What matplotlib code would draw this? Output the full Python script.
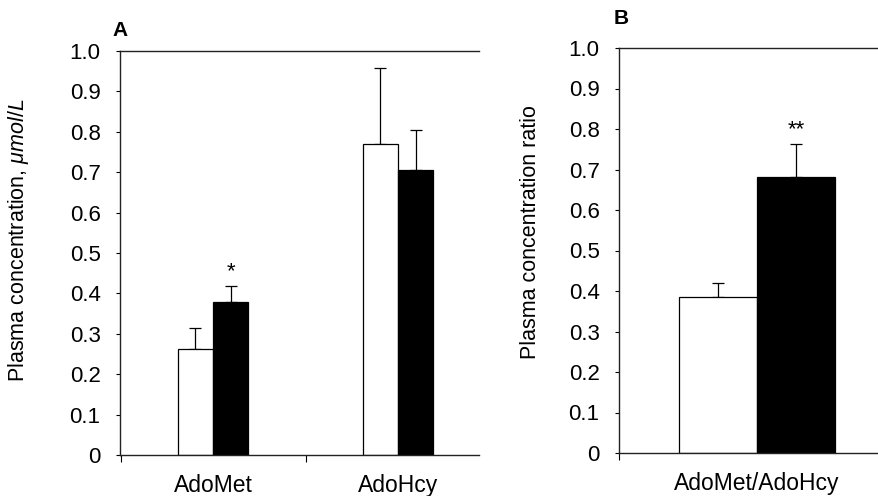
import numpy as np
import matplotlib
matplotlib.use("Agg")
import matplotlib.pyplot as plt

plt.rcParams["font.family"] = ["Liberation Sans", "DejaVu Sans"]
plt.rcParams["mathtext.fontset"] = "custom"
plt.rcParams["mathtext.rm"] = "Liberation Sans"
plt.rcParams["mathtext.it"] = "Liberation Sans:italic"

# panel A: plasma concentrations (umol/L)
groups_a = ["AdoMet", "AdoHcy"]
open_a = [0.262, 0.770]
open_a_err = [0.052, 0.188]
filled_a = [0.379, 0.705]
filled_a_err = [0.039, 0.099]
marks_a = ["*", ""]

# panel B: ratio
groups_b = ["AdoMet/AdoHcy"]
open_b = [0.385]
open_b_err = [0.035]
filled_b = [0.681]
filled_b_err = [0.082]
marks_b = ["**"]

yticks = np.round(np.arange(0, 1.01, 0.1), 1)
ylabels = ["0"] + [f"{v:.1f}" for v in yticks[1:]]

FS = 16
fig = plt.figure(figsize=(8.79, 4.96), dpi=100)
W, H = 879, 496


def style_axes(ax):
    ax.set_ylim(0, 1.0)
    ax.set_yticks(yticks)
    ax.set_yticklabels(ylabels, fontsize=FS)
    for side in ["top", "left", "bottom"]:
        ax.spines[side].set_linewidth(1.0)
        ax.spines[side].set_color("#222222")
    ax.spines["right"].set_visible(False)
    ax.tick_params(axis="y", direction="out", length=3, width=0.8, pad=11)
    ax.tick_params(axis="x", direction="out", length=5, width=0.8)


def draw_bars(ax, xs, op, op_err, fi, fi_err, marks, w):
    ax.bar(xs - w / 2, op, w, color="white", edgecolor="black", linewidth=0.9, zorder=2)
    ax.bar(xs + w / 2, fi, w, color="black", edgecolor="black", linewidth=0.9, zorder=2)
    ax.errorbar(xs - w / 2, op, yerr=[np.zeros(len(op)), op_err], fmt="none",
                ecolor="black", elinewidth=0.9, capsize=4, capthick=0.9, zorder=1)
    ax.errorbar(xs + w / 2, fi, yerr=[np.zeros(len(fi)), fi_err], fmt="none",
                ecolor="black", elinewidth=0.9, capsize=4, capthick=0.9, zorder=1)
    for x, v, e, m in zip(xs, fi, fi_err, marks):
        if m:
            ax.text(x + w / 2, v + e + 0.035, m, ha="center", va="center", fontsize=16)


# panel A
axA = fig.add_axes([120 / W, 1 - 455 / H, (479 - 120) / W, (455 - 51) / H])
xa = np.arange(len(groups_a))
draw_bars(axA, xa, open_a, open_a_err, filled_a, filled_a_err, marks_a, 0.19)
axA.set_xlim(-0.503, 1.438)
style_axes(axA)
axA.set_xticks([-0.5, 0.5])
axA.set_xticklabels([])
axA.set_xticks(xa, minor=True)
axA.set_xticklabels(groups_a, minor=True)
axA.tick_params(axis="x", which="minor", length=0, labelsize=FS + 0.5, pad=14)
axA.set_ylabel(r"Plasma concentration, $\mathit{\mu mol/L}$", fontsize=15.5)
axA.yaxis.set_label_coords(-0.248, 0.532)
fig.text(112 / W, 1 - 31 / H, "A", fontsize=15, fontweight="bold", ha="left", va="center")

# panel B
axB = fig.add_axes([619 / W, 1 - 453 / H, (879 - 619) / W, (453 - 48) / H])
xb = np.arange(len(groups_b))
draw_bars(axB, xb, open_b, open_b_err, filled_b, filled_b_err, marks_b, 0.35)
axB.set_xlim(-0.62, 0.547)
style_axes(axB)
axB.set_xticks([-0.62])
axB.set_xticklabels([])
axB.set_xticks(xb, minor=True)
axB.set_xticklabels(groups_b, minor=True)
axB.tick_params(axis="x", which="minor", length=0, labelsize=FS + 0.5, pad=14)
axB.set_ylabel("Plasma concentration ratio", fontsize=15.5)
axB.yaxis.set_label_coords(-0.30, 0.546)
fig.text(614 / W, 1 - 19 / H, "B", fontsize=15, fontweight="bold", ha="left", va="center")

fig.savefig("out.png", dpi=100)
